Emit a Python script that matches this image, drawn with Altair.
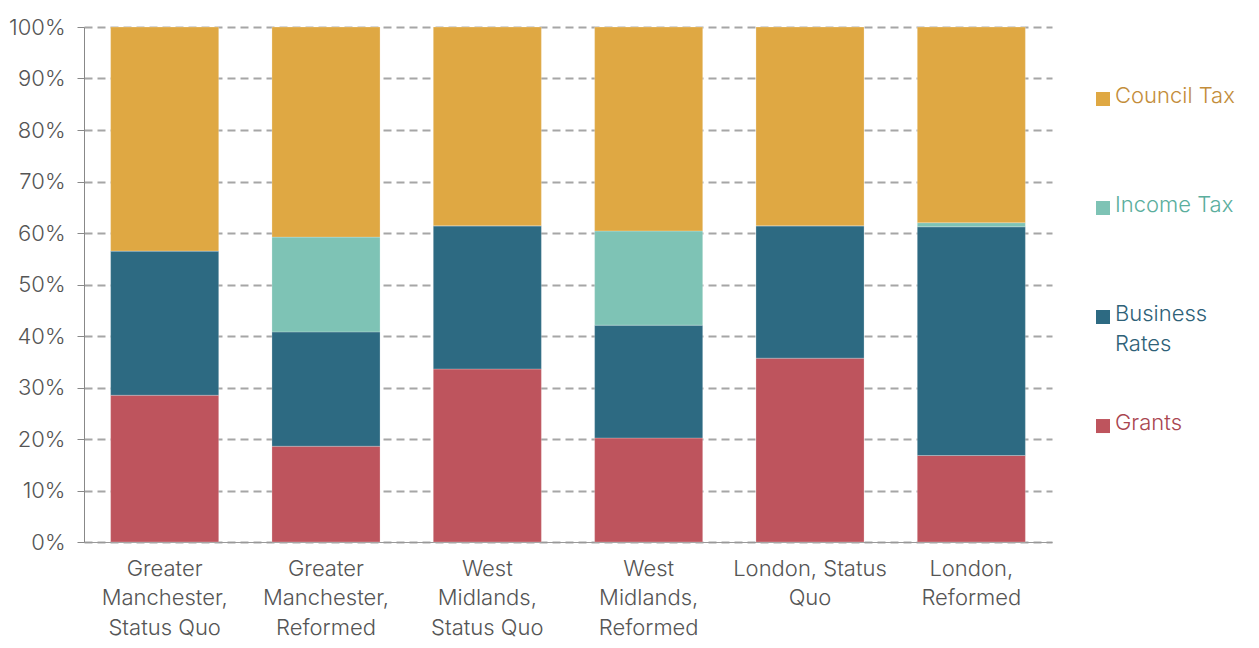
import altair as alt
import pandas as pd

categories = [
    "Greater\nManchester,\nStatus Quo",
    "Greater\nManchester,\nReformed",
    "West\nMidlands,\nStatus Quo",
    "West\nMidlands,\nReformed",
    "London, Status\nQuo",
    "London,\nReformed",
]
grants = [28.5, 18.6, 33.6, 20.2, 35.7, 16.8]
business_rates = [28.0, 22.2, 27.8, 21.9, 25.7, 44.4]
income_tax = [0.0, 18.4, 0.0, 18.3, 0.0, 0.8]
council_tax = [43.5, 40.8, 38.6, 39.6, 38.6, 38.0]

stack_series = ["Grants", "Business Rates", "Income Tax", "Council Tax"]
stack_values = [grants, business_rates, income_tax, council_tax]

legend_names = ["Council Tax", "Income Tax", "Business Rates", "Grants"]
legend_labels = ["Council Tax", "Income Tax", "Business\nRates", "Grants"]
bar_colors = ["#DFA843", "#7EC3B5", "#2D6A82", "#BE545D"]
text_colors = ["#C38D3A", "#5BAE9D", "#2E6178", "#A9464F"]
y_ticks = list(range(0, 101, 10))

FONT = "Inter"
FS = 22
FW = 300

rows = []
for i, cat in enumerate(categories):
    for k, (name, vals) in enumerate(zip(stack_series, stack_values)):
        rows.append({"category": cat, "source": name, "value": vals[i], "order": k})
df = pd.DataFrame(rows)

color_scale = alt.Scale(domain=legend_names, range=bar_colors)

bars = alt.Chart(df).mark_bar(stroke="#ffffff", strokeWidth=0.6, strokeOpacity=0.4).encode(
    x=alt.X(
        "category:N",
        sort=categories,
        scale=alt.Scale(paddingInner=0.33, paddingOuter=0.165),
        axis=alt.Axis(
            title=None, labelAngle=0, labelExpr="split(datum.label, '\\n')",
            labelLineHeight=29.5, labelFontSize=FS, labelFontWeight=FW, labelColor="#555555",
            labelPadding=16, ticks=False, domainColor="#999999", domainWidth=1,
            labelLimit=400, grid=False, labelFont=FONT,
        ),
    ),
    y=alt.Y(
        "value:Q",
        stack="zero",
        scale=alt.Scale(domain=[0, 100], nice=False),
        axis=alt.Axis(
            title=None, values=y_ticks, labelExpr="datum.value + '%'",
            grid=True, gridDash=[8, 5], gridColor="#A6A6A6", gridWidth=2,
            tickSize=7, tickColor="#888888", domainColor="#888888",
            labelPadding=12, labelFontSize=FS, labelFontWeight=FW,
            labelColor="#555555", labelFont=FONT,
        ),
    ),
    color=alt.Color("source:N", scale=color_scale, legend=None),
    order=alt.Order("order:Q", sort="ascending"),
).properties(width=968, height=515)

leg_df = pd.DataFrame({"name": legend_names, "label": legend_labels, "tcolor": text_colors})
ly = alt.Y(
    "name:N", sort=legend_names, axis=None,
    scale=alt.Scale(padding=0.862, align=0.383),
)
sym = alt.Chart(leg_df).mark_point(shape="square", filled=True, size=196, opacity=1).encode(
    x=alt.value(31), y=ly,
    color=alt.Color("name:N", scale=color_scale, legend=None),
)
txt = alt.Chart(leg_df).mark_text(
    align="left", baseline="top", dy=-13, fontSize=FS, fontWeight=FW, lineBreak="\n",
    lineHeight=30, font=FONT,
).encode(
    x=alt.value(43), y=ly, text="label:N",
    color=alt.Color("tcolor:N", scale=None),
)
legend = alt.layer(sym, txt).properties(width=150, height=515)

chart = alt.hconcat(bars, legend, spacing=20).properties(
    padding={"left": 0, "top": 8, "right": 5, "bottom": 5},
).configure(font=FONT).configure_view(stroke=None)

chart.save("out.html", embed_options={"renderer": "svg", "actions": False})
